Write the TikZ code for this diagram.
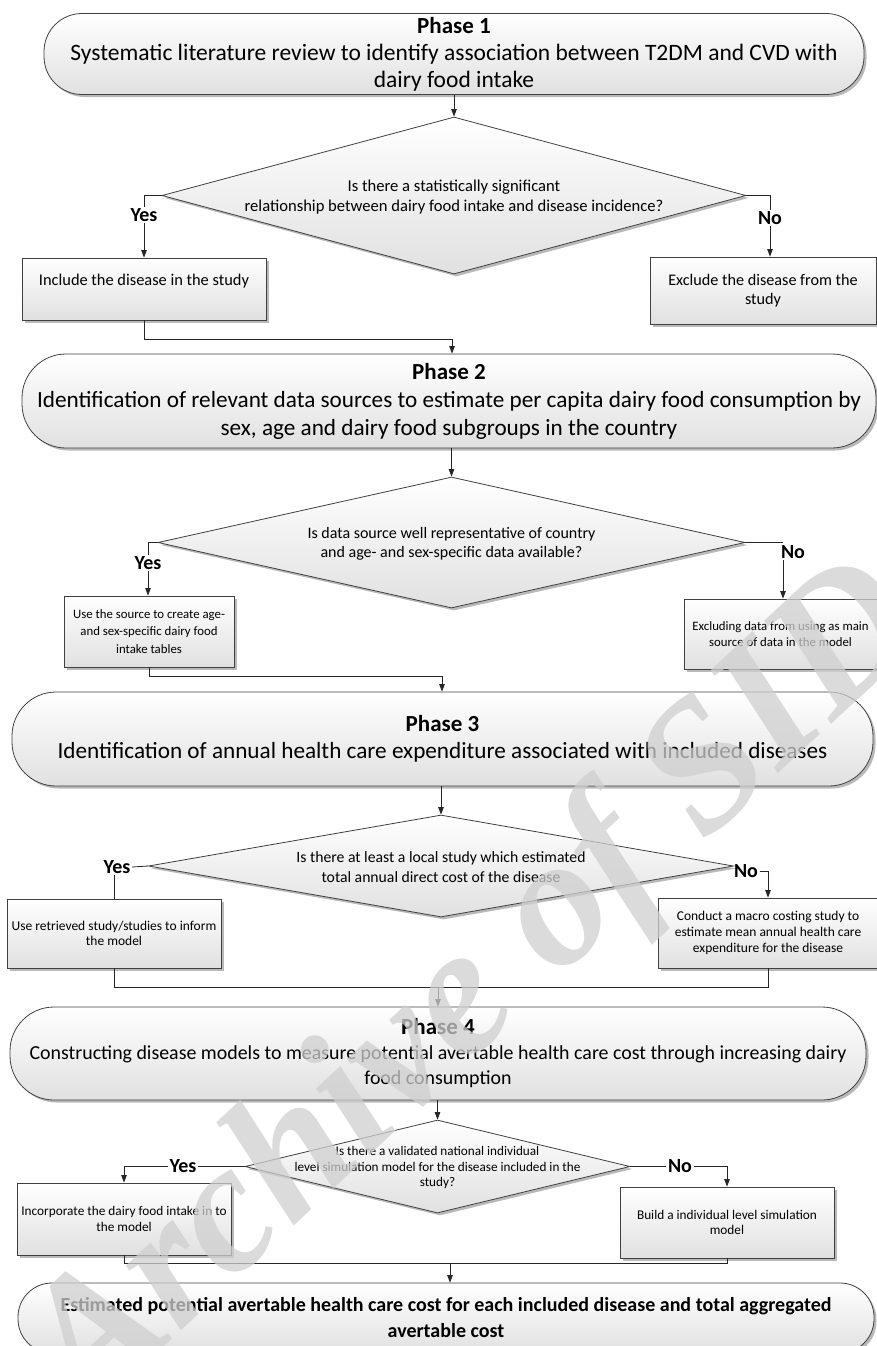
\documentclass[tikz,border=0pt]{standalone}
\usepackage{fontspec}
\setmainfont{Carlito}
\newfontfamily\wmfont{Liberation Serif}
\usetikzlibrary{arrows.meta,shapes.geometric,shadows,calc}
\newcommand\setfs[2]{\fontsize{#1}{#2}\selectfont}
\tikzset{
 base/.style={draw=black!75, line width=0.8pt, top color=white, bottom color=black!12,
   drop shadow={shadow xshift=2.5pt, shadow yshift=-2.5pt, fill=black!50, opacity=0.55}},
 phasebox/.style={base, rectangle, rounded corners=40pt, align=center, inner sep=0pt},
 stepbox/.style={base, rectangle, align=center, inner sep=2pt},
 decision/.style={base, diamond, inner sep=0pt},
 dtext/.style={align=center, inner sep=0pt},
 lbl/.style={font=\setfs{20}{22}\bfseries, inner sep=1.5pt},
 conn/.style={line width=0.8pt, draw=black!85},
 arr/.style={conn, -{Triangle[length=7.5pt,width=5.5pt]}},
}
\begin{document}
\begin{tikzpicture}[x=1pt,y=-1pt]
\useasboundingbox (0,0) rectangle (877,1346);

% ---------- Phase 1 ----------
\node[phasebox, minimum width=820pt, minimum height=81pt, rounded corners=38pt,
      font=\setfs{23.5}{27}] (P1) at (454,54)
  {{\setfs{23}{27}\bfseries Phase 1}\\Systematic literature review to identify association between T2DM and CVD with\\dairy food intake};

\node[decision, minimum width=584pt, minimum height=157pt] (D1) at (454,195.5) {};
\node[dtext, font=\setfs{16.6}{20}] (D1t) at (454,197)
  {Is there a statistically significant\\relationship between dairy food intake and disease incidence?};

\node[lbl] (Y1) at (144,215) {Yes};
\node[lbl] (N1) at (770,218) {No};

\node[stepbox, minimum width=244pt, minimum height=62pt, font=\setfs{16.4}{18}] (B1a) at (144,289)
  {Include the disease in the study\\\mbox{}};
\node[stepbox, minimum width=226pt, minimum height=67pt, font=\setfs{16.2}{19}] (B1b) at (763,290.5)
  {Exclude the disease from the\\study};

% ---------- Phase 2 ----------
\node[phasebox, minimum width=854pt, minimum height=94pt, rounded corners=44pt,
      font=\setfs{23.2}{28}] (P2) at (449,401)
  {{\setfs{23}{28}\bfseries Phase 2}\\Identification of relevant data sources to estimate per capita dairy food consumption by\\sex, age and dairy food subgroups in the country};

\node[decision, minimum width=587pt, minimum height=131pt] (D2) at (451.5,542.5) {};
\node[dtext, font=\setfs{16}{19}] (D2t) at (451.5,543.5)
  {Is data source well representative of country\\and age- and sex-specific data available?};

\node[lbl] (Y2) at (148,563) {Yes};
\node[lbl] (N2) at (793,552) {No};

\node[stepbox, minimum width=170pt, minimum height=71pt, font=\setfs{12.8}{17.5}] (B2a) at (149,631.5)
  {Use the source to create age-\\and sex-specific dairy food\\intake tables};
\node[stepbox, minimum width=193pt, minimum height=70pt, font=\setfs{12.8}{16}] (B2b) at (780.5,634)
  {Excluding data from using as main\\source of data in the model};

% ---------- Phase 3 ----------
\node[phasebox, minimum width=861pt, minimum height=94pt, rounded corners=44pt,
      font=\setfs{23.2}{27}] (P3) at (442.5,739)
  {{\setfs{23}{27}\bfseries Phase 3}\\Identification of annual health care expenditure associated with included diseases};

\node[decision, minimum width=585pt, minimum height=102pt] (D3) at (441,866) {};
\node[dtext, font=\setfs{15.7}{20}] (D3t) at (441,867)
  {Is there at least a local study which estimated\\total annual direct cost of the disease};

\node[lbl] (Y3) at (117,867) {Yes};
\node[lbl] (N3) at (746,871) {No};

\node[stepbox, minimum width=214pt, minimum height=69pt, font=\setfs{13.5}{15.5}] (B3a) at (114,933.5)
  {Use retrieved study/studies to inform\\the model};
\node[stepbox, minimum width=220pt, minimum height=70pt, font=\setfs{13.5}{16}] (B3b) at (768,933)
  {Conduct a macro costing study to\\estimate mean annual health care\\expenditure for the disease};

% ---------- Phase 4 ----------
\node[phasebox, minimum width=856pt, minimum height=93pt, rounded corners=44pt,
      font=\setfs{19.9}{25}] (P4) at (438,1053.5)
  {{\setfs{23}{26}\bfseries Phase 4}\\Constructing disease models to measure potential avertable health care cost through increasing dairy\\food consumption};

\node[decision, minimum width=385pt, minimum height=93pt] (D4) at (437.5,1166.5) {};
\node[dtext, font=\setfs{13.2}{15.5}] (D4t) at (437.5,1167.5)
  {Is there a validated national individual\\level simulation model for the disease included in the\\study?};

\node[lbl] (Y4) at (183,1166.5) {Yes};
\node[lbl] (N4) at (680,1166.5) {No};

\node[stepbox, minimum width=214pt, minimum height=72pt, font=\setfs{13.3}{16}] (B4a) at (124,1219)
  {Incorporate the dairy food intake in to\\the model};
\node[stepbox, minimum width=214pt, minimum height=71pt, font=\setfs{13.3}{15.5}] (B4b) at (727,1222.5)
  {Build a individual level simulation\\model};

% ---------- Final ----------
\node[phasebox, minimum width=856pt, minimum height=70pt, rounded corners=34pt,
      font=\setfs{20}{26}\bfseries] (F) at (446,1318)
  {Estimated potential avertable health care cost for each included disease and total aggregated\\avertable cost};

% ---------- connectors ----------
\draw[arr] (P1.south) -- (D1.north);
\draw[conn] (D1.west) -| (Y1.north);
\draw[arr] (Y1.south) -- (B1a.north);
\draw[conn] (D1.east) -| (N1.north);
\draw[arr] (N1.south) -- (N1.south |- B1b.north);
\coordinate (J1) at (452,339);
\draw[conn] (B1a.south) |- (J1);
\draw[arr] (J1) -- (J1 |- P2.north);

\draw[arr] (D2.north |- P2.south) -- (D2.north);
\draw[conn] (D2.west) -| (Y2.north);
\draw[arr] (Y2.south) -- (Y2.south |- B2a.north);
\coordinate (K2) at (783,542.5);
\draw[conn] (D2.east) -- (K2);
\draw[arr] (K2 |- N2.south) -- (K2 |- B2b.north);
\coordinate (J2) at (442,676);
\draw[conn] (B2a.south) |- (J2);
\draw[arr] (J2) -- (J2 |- P3.north);

\draw[arr] (D3.north |- P3.south) -- (D3.north);
\draw[conn] (Y3.east) -- (D3.west);
\draw[conn] (B3a.north |- Y3.south) -- (B3a.north);
\draw[arr] (N3.east) -| (B3b.north);
\coordinate (J3) at (438,987);
\draw[conn] (B3a.south) |- (B3b.south |- J3) -- (B3b.south);
\draw[arr] (J3) -- (J3 |- P4.north);

\draw[arr] (D4.north |- P4.south) -- (D4.north);
\draw[conn] (D4.west) -- (Y4.east);
\draw[arr] (Y4.west) -| (B4a.north);
\draw[conn] (D4.east) -- (N4.west);
\draw[arr] (N4.east) -| (B4b.north);
\coordinate (J4) at (450,1263);
\draw[conn] (B4a.south) |- (B4b.south |- J4) -- (B4b.south);
\draw[arr] (J4) -- (J4 |- F.north);

% ---------- watermark ----------
\node[rotate=43, text=black!19, text opacity=0.75, inner sep=0pt,
      font=\wmfont\setfs{185}{185}\bfseries\itshape] (WM) at (478,992) {Archive of SID};
\end{tikzpicture}
\end{document}
